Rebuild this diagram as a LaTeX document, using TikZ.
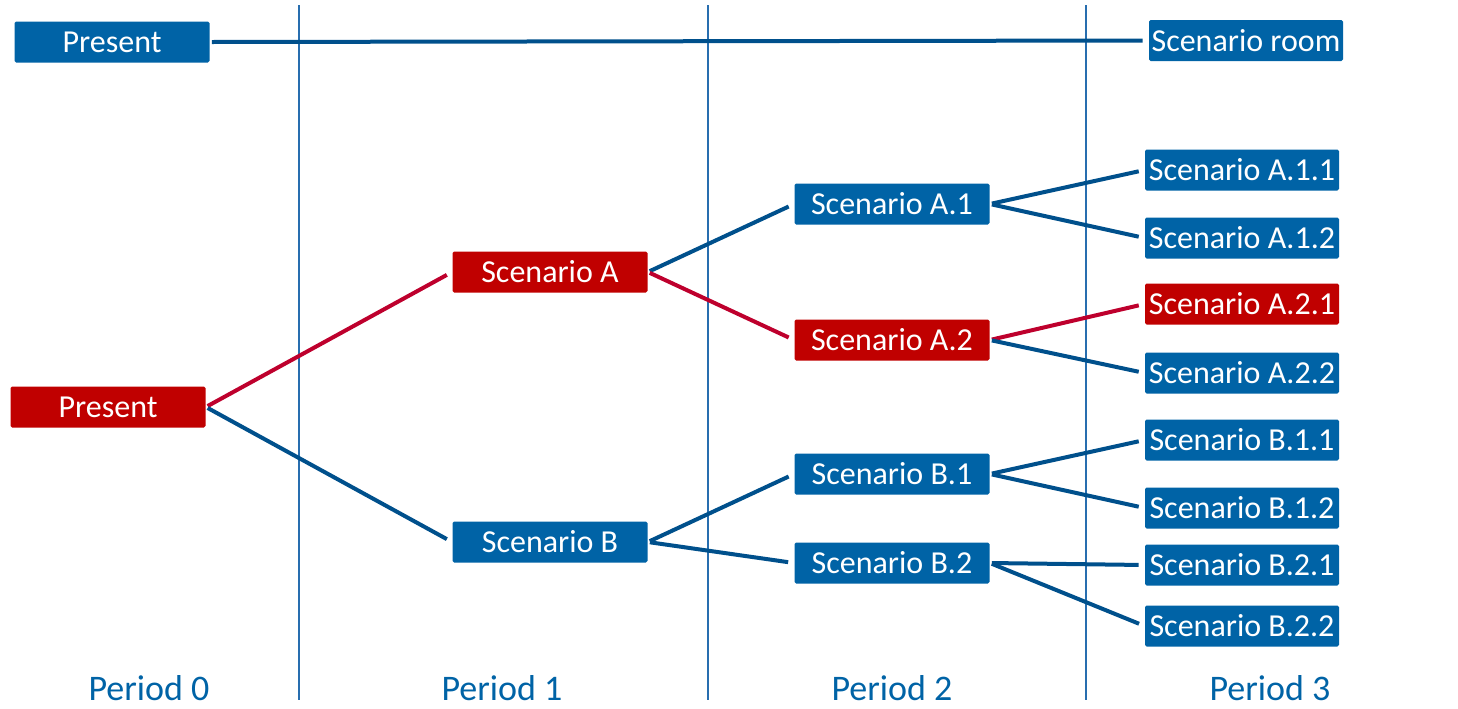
\documentclass[tikz,border=0pt]{standalone}
\usepackage{fontspec}
\setmainfont{Carlito}
\definecolor{boxblue}{RGB}{0,99,166}
\definecolor{boxred}{RGB}{192,0,0}
\definecolor{lineblue}{RGB}{0,80,140}
\definecolor{linered}{RGB}{190,0,45}
\definecolor{gridblue}{RGB}{40,110,175}
\begin{document}
\begin{tikzpicture}[x=0.5pt,y=-0.5pt,
 box/.style={minimum width=97.5pt,minimum height=20.5pt,inner sep=0pt,rounded corners=0.8pt,text=white,font=\fontsize{16}{18}\selectfont},
 bluebox/.style={box,fill=boxblue},
 redbox/.style={box,fill=boxred},
 link/.style={line width=2pt,shorten >=3pt,shorten <=1pt},
 bl/.style={link,draw=lineblue},
 rl/.style={link,draw=linered},
 grid/.style={draw=gridblue,line width=0.8pt},
 period/.style={text=boxblue,inner sep=0pt,font=\fontsize{18}{20}\selectfont}]
\useasboundingbox (0,0) rectangle (1458,708);
% period separators
\draw[grid] (299,5) -- (299,700);
\draw[grid] (708,5) -- (708,700);
\draw[grid] (1086,5) -- (1086,700);
% top row
\node[bluebox] (ptop) at (112,42) {Present};
\node[bluebox,minimum width=97pt] (room) at (1246,40.5) {Scenario room};
% tree
\node[redbox] (p0) at (108,407) {Present};
\node[redbox] (sa) at (550,272) {Scenario A};
\node[bluebox] (sb) at (550,542) {Scenario B};
\node[bluebox] (sa1) at (892,204) {Scenario A.1};
\node[redbox] (sa2) at (892,340) {Scenario A.2};
\node[bluebox] (sb1) at (892,474) {Scenario B.1};
\node[bluebox] (sb2) at (892,563) {Scenario B.2};
\node[bluebox,minimum width=97pt] (sa11) at (1242,170) {Scenario A.1.1};
\node[bluebox,minimum width=97pt] (sa12) at (1242,238) {Scenario A.1.2};
\node[redbox,minimum width=97pt] (sa21) at (1242,304) {Scenario A.2.1};
\node[bluebox,minimum width=97pt] (sa22) at (1242,373) {Scenario A.2.2};
\node[bluebox,minimum width=97pt] (sb11) at (1242,440) {Scenario B.1.1};
\node[bluebox,minimum width=97pt] (sb12) at (1242,508) {Scenario B.1.2};
\node[bluebox,minimum width=97pt] (sb21) at (1242,565) {Scenario B.2.1};
\node[bluebox,minimum width=97pt] (sb22) at (1242,626) {Scenario B.2.2};
% connectors
\draw[bl] (ptop.east) -- (room.west);
\draw[rl] (p0.east) -- (sa.west);
\draw[bl] (p0.east) -- (sb.west);
\draw[bl] (sa.east) -- (sa1.west);
\draw[rl] (sa.east) -- (sa2.west);
\draw[bl] (sb.east) -- (sb1.west);
\draw[bl] (sb.east) -- (sb2.west);
\draw[bl] (sa1.east) -- (sa11.west);
\draw[bl] (sa1.east) -- (sa12.west);
\draw[rl] (sa2.east) -- (sa21.west);
\draw[bl] (sa2.east) -- (sa22.west);
\draw[bl] (sb1.east) -- (sb11.west);
\draw[bl] (sb1.east) -- (sb12.west);
\draw[bl] (sb2.east) -- (sb21.west);
\draw[bl] (sb2.east) -- (sb22.west);
% period labels
\node[period] (per0) at (149,688) {Period 0};
\node[period] (per1) at (502,688) {Period 1};
\node[period] (per2) at (892,688) {Period 2};
\node[period] (per3) at (1270,688) {Period 3};
\end{tikzpicture}
\end{document}
